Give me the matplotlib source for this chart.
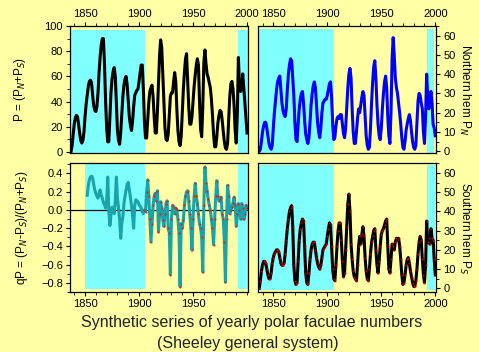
import matplotlib
matplotlib.use('Agg')
import matplotlib.pyplot as plt
from matplotlib.ticker import MultipleLocator

plt.rcParams['font.family'] = ['Liberation Sans', 'DejaVu Sans']
plt.rc('xtick', labelsize=8)
plt.rc('ytick', labelsize=8)

# yearly values 1837..2000
years = list(range(1837, 2001))

north = [0, 1, 5,
         10, 13, 15, 15, 12, 8, 4, 2, 1, 3,
         12, 20, 26, 32, 36, 38, 39, 32, 25, 21,
         19, 18, 22, 32, 40, 45, 48, 47, 38, 29,
         15, 6, 5, 14, 22, 27, 30, 31, 25, 16,
         9, 6, 4, 7, 15, 24, 30, 34, 36, 33,
         24, 15, 10, 7, 12, 20, 25, 26, 27, 27,
         29, 32, 35, 36, 28, 14, 6, 7, 13, 17,
         18, 17, 19, 19, 14, 9, 7, 12, 22, 33,
         40, 43, 38, 22, 10, 4, 4, 10, 17, 22,
         20, 24, 28, 31, 29, 18, 8, 3, 1, 2,
         12, 25, 36, 44, 47, 38, 24, 14, 8, 6,
         12, 22, 30, 36, 39, 33, 18, 8, 4, 20,
         48, 59, 50, 38, 33, 30, 25, 20, 14, 7,
         2, 1, 5, 11, 14, 17, 19, 16, 10, 5,
         2, 1, 3, 15, 26, 30, 29, 25, 22, 10,
         4, 18, 40, 28, 22, 27, 31, 25, 14, 12, 8]

south = [0, 4, 9,
         12, 14, 14, 13, 10, 7, 5, 5, 8, 13,
         16, 18, 19, 20, 20, 19, 16, 13, 12, 12,
         13, 18, 25, 31, 36, 40, 42, 43, 32, 12,
         4, 2, 3, 14, 25, 31, 34, 36, 35, 22,
         8, 3, 2, 8, 15, 20, 23, 24, 24, 20,
         16, 13, 11, 10, 12, 16, 20, 21, 22, 23,
         27, 31, 34, 33, 22, 10, 5, 4, 12, 22,
         30, 34, 34, 25, 14, 6, 8, 20, 32, 44,
         49, 40, 23, 15, 9, 6, 5, 4, 12, 22,
         27, 23, 28, 32, 27, 16, 9, 5, 4, 10,
         18, 24, 27, 30, 31, 20, 12, 8, 14, 22,
         28, 30, 31, 33, 35, 36, 22, 10, 8, 15,
         23, 22, 20, 24, 26, 25, 26, 22, 15, 7,
         2, 3, 7, 12, 15, 16, 13, 9, 6, 3,
         1, 1, 4, 10, 18, 24, 27, 25, 15, 7,
         3, 12, 35, 24, 26, 23, 31, 26, 25, 15, 7]

total = [0, 5, 14,
         22, 27, 29, 28, 22, 15, 9, 7, 9, 16,
         28, 38, 45, 52, 56, 57, 55, 45, 37, 33,
         32, 36, 47, 63, 76, 85, 90, 90, 70, 41,
         19, 8, 8, 28, 47, 58, 64, 67, 60, 38,
         17, 9, 6, 15, 30, 44, 53, 58, 60, 53,
         40, 28, 21, 17, 24, 36, 45, 47, 49, 50,
         56, 63, 69, 69, 50, 24, 11, 11, 25, 39,
         48, 51, 53, 44, 28, 15, 15, 32, 54, 77,
         89, 83, 61, 37, 19, 10, 9, 14, 29, 44,
         47, 47, 56, 63, 56, 34, 17, 8, 5, 12,
         30, 49, 63, 74, 78, 58, 36, 22, 22, 28,
         40, 52, 61, 69, 74, 69, 40, 18, 12, 35,
         71, 81, 70, 62, 59, 55, 51, 42, 29, 14,
         4, 4, 12, 23, 29, 33, 32, 25, 16, 8,
         3, 2, 7, 25, 44, 54, 56, 50, 37, 17,
         7, 30, 75, 52, 48, 50, 62, 51, 39, 27, 15]

# asymmetry, 1852..2000
q_years = list(range(1852, 2001))
asym = [0.16, 0.27, 0.33, 0.36, 0.37, 0.35, 0.28, 0.22,
        0.18, 0.15, 0.13, 0.18, 0.22, 0.16, 0.13, 0.08, 0.06, 0.02,
        0.10, 0.36, 0.0, -0.17, -0.05, 0.03, 0.0, -0.04, 0.10, 0.36,
        0.12, 0.02, -0.10, -0.31, -0.15, -0.08, 0.07, 0.15, 0.22, 0.28,
        0.30, 0.22, 0.14, 0.05, -0.06, -0.20, 0.05, 0.11, 0.10, 0.09,
        0.06, 0.04, 0.02, -0.02, -0.04, 0.0, -0.02, 0.20, 0.33, 0.15,
        -0.10, -0.35, -0.15, 0.05, 0.15, 0.18, 0.10, 0.21, -0.24, -0.05,
        0.09, 0.02, -0.11, -0.18, -0.05, 0.07, 0.10, -0.20, -0.25, -0.71,
        -0.10, 0.05, 0.03, -0.04, 0.02, 0.0, -0.10, -0.25, -0.84, -0.15,
        -0.20, -0.11, 0.05, 0.15, 0.20, 0.21, 0.10, -0.05, -0.20, -0.44,
        -0.10, 0.15, 0.29, 0.15, 0.07, -0.05, -0.15, -0.20, -0.30, -0.68,
        0.05, 0.47, 0.30, 0.21, 0.12, 0.05, 0.0, -0.10, -0.20, -0.38,
        -0.10, 0.15, 0.32, 0.15, 0.10, 0.12, 0.14, -0.05, -0.10, -0.35,
        -0.79, -0.10, 0.27, 0.15, -0.04, 0.0, 0.03, 0.08, 0.14, 0.05,
        -0.18, -0.05, 0.07, 0.0, -0.10, 0.07, 0.02, -0.10, -0.05, 0.05, 0.02]

BG = '#FFFFA5'
CYAN = '#80FFFF'
XLIM = (1836, 2001)

fig = plt.figure(figsize=(4.79, 3.52), dpi=100, facecolor=BG)
ax1 = fig.add_axes([0.146, 0.565, 0.372, 0.361], facecolor=BG)
ax2 = fig.add_axes([0.539, 0.565, 0.372, 0.361], facecolor=BG)
ax3 = fig.add_axes([0.146, 0.170, 0.372, 0.366], facecolor=BG)
ax4 = fig.add_axes([0.539, 0.170, 0.372, 0.366], facecolor=BG)

# shaded intervals
ax1.fill_between([1836.5, 1905.5], -2, 97, color=CYAN, lw=0)
ax1.fill_between([1992, 2001], -2, 97, color=CYAN, lw=0)
ax2.fill_between([1837.2, 1905.8], -2, 63.5, color=CYAN, lw=0)
ax2.fill_between([1992.5, 1998.5], -2, 63.5, color=CYAN, lw=0)
ax3.fill_between([1850, 1905.7], -0.86, 0.5, color=CYAN, lw=0)
ax3.fill_between([1991.5, 2001], -0.86, 0.5, color=CYAN, lw=0)
ax4.fill_between([1837, 1905.9], -0.7, 64, color=CYAN, lw=0)
ax4.fill_between([1992.3, 1999.4], -0.7, 64, color=CYAN, lw=0)

ax1.plot(years, total, color='black', lw=2.2)
ax2.plot(years, north, color='#0000FF', lw=2.2)
ax3.axhline(0, color='black', lw=0.9)
ax3.plot(q_years, asym, color='#1AA3A8', lw=2.2)
ax3.plot(q_years[53:], asym[53:], ls='none', marker='.', ms=1.0, color='red', alpha=0.8)
ax4.plot(years, south, color='black', lw=2.2)
ax4.plot(years, south, ls='none', marker='.', ms=1.0, color='red', alpha=0.8)

for ax in (ax1, ax2, ax3, ax4):
    ax.set_xlim(*XLIM)
    ax.xaxis.set_major_locator(MultipleLocator(50))
    ax.xaxis.set_minor_locator(MultipleLocator(10))
    ax.tick_params(which='major', direction='out', length=3, width=0.8, pad=2)
    ax.tick_params(which='minor', direction='out', length=2, width=0.6)
    for s in ax.spines.values():
        s.set_linewidth(0.9)

ax1.set_ylim(-1, 100)
ax1.yaxis.set_major_locator(MultipleLocator(20))
ax1.yaxis.set_minor_locator(MultipleLocator(10))
ax1.xaxis.tick_top()
ax1.set_ylabel(r'P = (P$_N$+P$_S$)', fontsize=8.5, labelpad=12)

ax2.set_ylim(-1, 65)
ax2.yaxis.set_major_locator(MultipleLocator(10))
ax2.yaxis.set_minor_locator(MultipleLocator(5))
ax2.xaxis.tick_top()
ax2.yaxis.tick_right()
ax2.yaxis.set_label_position('right')
ax2.set_ylabel(r'Northern hem P$_N$', fontsize=8.5, rotation=270, labelpad=12)

ax3.set_ylim(-0.9, 0.51)
ax3.yaxis.set_major_locator(MultipleLocator(0.2))
ax3.yaxis.set_minor_locator(MultipleLocator(0.1))
ax3.set_xticks([1850, 1900, 1950])
ax3.set_xlim(*XLIM)
ax3.set_ylabel(r'qP = (P$_N$-P$_S$)/(P$_N$+P$_S$)', fontsize=8.5, labelpad=8)

ax4.set_ylim(-2, 65)
ax4.yaxis.set_major_locator(MultipleLocator(10))
ax4.yaxis.set_minor_locator(MultipleLocator(5))
ax4.yaxis.tick_right()
ax4.yaxis.set_label_position('right')
ax4.set_ylabel(r'Southern hem P$_S$', fontsize=8.5, rotation=270, labelpad=12)

fig.text(0.526, 0.085, 'Synthetic series of yearly polar faculae numbers',
         ha='center', va='center', fontsize=11.5, color='#222222')
fig.text(0.518, 0.025, '(Sheeley general system)',
         ha='center', va='center', fontsize=11.5, color='#222222')

plt.savefig('out.png', dpi=100, facecolor=BG)
